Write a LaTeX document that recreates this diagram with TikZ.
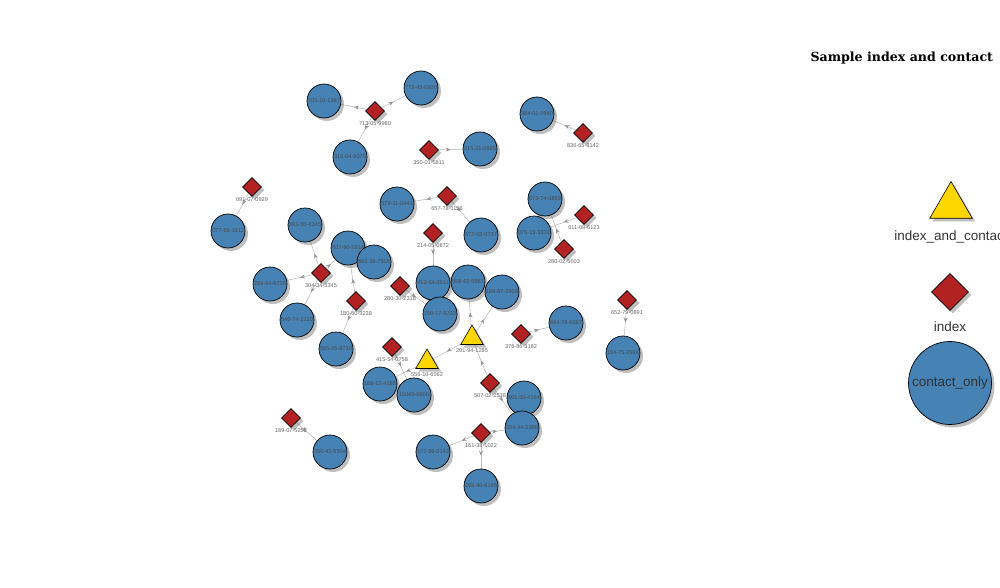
\documentclass[tikz,border=0pt]{standalone}
\usepackage{fontspec}
\setmainfont{Liberation Sans}
\newfontfamily\titlefont{DejaVu Serif}
\usetikzlibrary{shapes.geometric,shadows,arrows.meta,decorations.markings,backgrounds}
\definecolor{steel}{RGB}{70,130,180}
\definecolor{brick}{RGB}{178,34,34}
\definecolor{goldy}{RGB}{255,215,0}
\definecolor{edgegray}{RGB}{190,190,190}
\definecolor{tipgray}{RGB}{150,150,150}
\tikzset{
  shade/.style={drop shadow={shadow xshift=3pt,shadow yshift=-3pt,opacity=.25,fill=black}},
  contact/.style={circle,draw=black,line width=.7pt,fill=steel,minimum size=34pt,inner sep=0pt,
    font=\fontsize{5.6}{6}\selectfont,text=black!70,shade},
  indexnode/.style={diamond,draw=black,line width=.6pt,fill=brick,minimum size=19pt,inner sep=0pt,shade},
  both/.style={regular polygon,regular polygon sides=3,draw=black,line width=.6pt,fill=goldy,
    minimum size=26pt,inner sep=0pt,shade},
  lbl/.style={font=\fontsize{5.6}{6}\selectfont,text=black!60,inner sep=1pt},
  legendtext/.style={font=\fontsize{13.5}{15}\selectfont,text=black!80},
  link/.style={draw=edgegray,line width=.6pt,postaction={decorate},
    decoration={markings,mark=at position .5 with {\arrow[tipgray]{Stealth[length=5pt,width=4pt]}}}}
}
\begin{document}
\begin{tikzpicture}[x=1pt,y=-1pt]
\useasboundingbox (0,0) rectangle (1000,588);
% contact only
\node[contact] (c1) at (324,101) {705-10-1387};
\node[contact] (c2) at (421,88) {772-43-0920};
\node[contact] (c3) at (350,157) {315-04-9079};
\node[contact] (c4) at (480,149) {215-21-0665};
\node[contact] (c5) at (537,114) {384-01-0540};
\node[contact] (c6) at (228,231) {077-66-1911};
\node[contact] (c7) at (305,225) {883-50-4345};
\node[contact] (c8) at (397,204) {579-11-0441};
\node[contact] (c9) at (481,235) {677-02-0737};
\node[contact] (c10) at (545,199) {873-74-0859};
\node[contact] (c11) at (534,233) {076-15-3330};
\node[contact] (c12) at (348,248) {407-90-2818};
\node[contact] (c13) at (374,262) {593-38-7559};
\node[contact] (c14) at (270,284) {289-64-6728};
\node[contact] (c15) at (297,320) {546-74-1220};
\node[contact] (c16) at (336,349) {595-05-9730};
\node[contact] (c17) at (433,283) {412-54-2611};
\node[contact] (c20) at (440,314) {750-17-9702};
\node[contact] (c18) at (468,282) {558-62-5961};
\node[contact] (c19) at (502,292) {189-87-2904};
\node[contact] (c21) at (566,323) {664-78-6087};
\node[contact] (c22) at (623,353) {184-75-2996};
\node[contact] (c23) at (380,384) {188-12-4188};
\node[contact] (c24) at (414,395) {15045-0606};
\node[contact] (c25) at (524,398) {801-50-4164};
\node[contact] (c26) at (522,428) {334-44-2398};
\node[contact] (c27) at (433,452) {177-96-0142};
\node[contact] (c28) at (481,486) {298-90-6195};
\node[contact] (c29) at (330,452) {330-43-5504};
% index
\node[indexnode,label={[lbl]below:713-05-9980}] (d1) at (375,111) {};
\node[indexnode,label={[lbl]below:350-01-5811}] (d2) at (429,150) {};
\node[indexnode,label={[lbl]below:836-65-8142}] (d3) at (583,133) {};
\node[indexnode,label={[lbl]below:091-07-0929}] (d4) at (252,187) {};
\node[indexnode,label={[lbl]below:657-78-1156}] (d5) at (447,196) {};
\node[indexnode,label={[lbl]below:214-05-0872}] (d6) at (433,233) {};
\node[indexnode,label={[lbl]below:611-09-6123}] (d7) at (584,215) {};
\node[indexnode,label={[lbl]below:280-02-5003}] (d8) at (564,249) {};
\node[indexnode,label={[lbl]below:304-34-3345}] (d9) at (321,273) {};
\node[indexnode,label={[lbl]below:280-30-2318}] (d10) at (400,286) {};
\node[indexnode,label={[lbl]below:180-60-3238}] (d11) at (356,301) {};
\node[indexnode,label={[lbl]below:652-79-0891}] (d12) at (627,300) {};
\node[indexnode,label={[lbl]below:378-86-3182}] (d13) at (521,334) {};
\node[indexnode,label={[lbl]below:415-54-0758}] (d14) at (392,347) {};
\node[indexnode,label={[lbl]below:507-02-2538}] (d15) at (490,383) {};
\node[indexnode,label={[lbl]below:189-07-5252}] (d16) at (291,418) {};
\node[indexnode,label={[lbl]below:161-38-1022}] (d17) at (481,433) {};
% index and contact
\node[both,label={[lbl,label distance=3pt]below:201-94-1285}] (t1) at (472,338) {};
\node[both,label={[lbl,label distance=3pt]below:556-10-6062}] (t2) at (427,362) {};
\begin{scope}[on background layer]
\draw[link] (d1) -- (c1);
\draw[link] (d1) -- (c2);
\draw[link] (d1) -- (c3);
\draw[link] (d2) -- (c4);
\draw[link] (d3) -- (c5);
\draw[link] (d4) -- (c6);
\draw[link] (d5) -- (c8);
\draw[link] (d5) -- (c9);
\draw[link] (d6) -- (c17);
\draw[link] (d7) -- (c11);
\draw[link] (d8) -- (c10);
\draw[link] (d9) -- (c7);
\draw[link] (d9) -- (c14);
\draw[link] (d9) -- (c12);
\draw[link] (d9) -- (c15);
\draw[link] (d11) -- (c12);
\draw[link] (d11) -- (c16);
\draw[link] (d10) -- (c20);
\draw[link] (t1) -- (c18);
\draw[link] (t1) -- (c19);
\draw[link] (t1) -- (t2);
\draw[link] (t2) -- (c23);
\draw[link] (d14) -- (c24);
\draw[link] (d15) -- (t1);
\draw[link] (d15) -- (c26);
\draw[link] (d17) -- (c26);
\draw[link] (d17) -- (c27);
\draw[link] (d17) -- (c28);
\draw[link] (d13) -- (c21);
\draw[link] (d12) -- (c22);
\draw[link] (d16) -- (c29);
\end{scope}
% legend
\node[anchor=west,font=\titlefont\bfseries\fontsize{12.6}{14}\selectfont] (title) at (807,58) {Sample index and contact};
\node[both,minimum size=49pt] (lboth) at (951,206) {};
\node[legendtext] (lbothtxt) at (951,237) {index\_and\_contact};
\node[indexnode,minimum size=37pt] (lindex) at (950,292) {};
\node[legendtext] (lindextxt) at (950,327) {index};
\node[contact,minimum size=83pt,font=\fontsize{13.5}{15}\selectfont,text=black!80] (lcontact) at (950,383) {contact\_only};
\end{tikzpicture}
\end{document}
